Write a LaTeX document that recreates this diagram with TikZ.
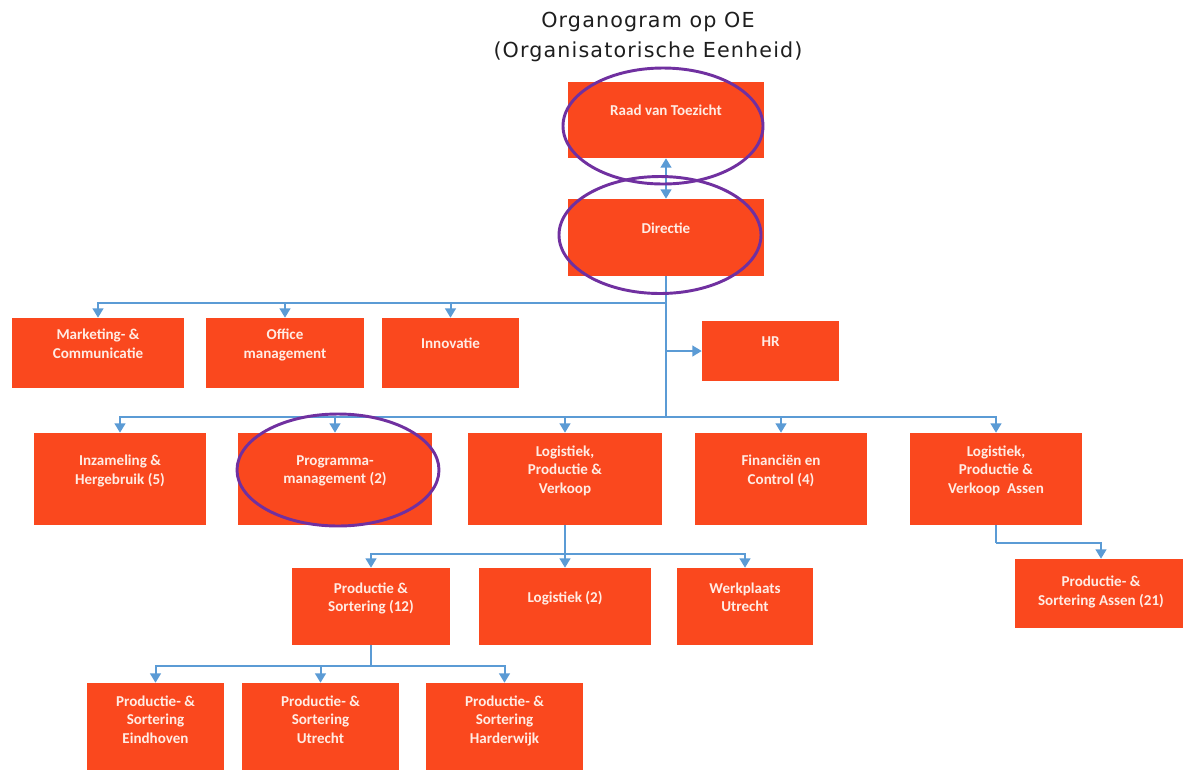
\documentclass[tikz,border=0pt]{standalone}
\usepackage{fontspec}
\setmainfont{Carlito}
\newfontfamily\titlefont[LetterSpace=5.5]{DejaVu Sans}
\usetikzlibrary{arrows.meta,shapes.geometric}
\definecolor{boxred}{RGB}{250,72,30}
\definecolor{boxtext}{RGB}{255,236,228}
\definecolor{conn}{RGB}{91,155,213}
\definecolor{hlpurple}{RGB}{112,48,160}
\definecolor{titlegray}{RGB}{30,30,30}
\tikzset{
  box/.style={fill=boxred, draw=none, text=boxtext, align=center,
    font=\bfseries\fontsize{11.3}{13.9}\selectfont, inner sep=0pt, text depth=14pt},
  line/.style={draw=conn, line width=1.5pt},
  arr/.style={line, -{Triangle[length=7pt,width=8pt]}},
  dbl/.style={line, {Triangle[length=7pt,width=8pt]}-{Triangle[length=7pt,width=8pt]}},
  hl/.style={ellipse, draw=hlpurple, line width=2.2pt, inner sep=0pt, fill=none}
}
\begin{document}
\begin{tikzpicture}[x=0.75pt,y=-0.75pt]
\useasboundingbox[fill=white] (0,0) rectangle (1183,769);
% title
\node[font=\titlefont\fontsize{15.5}{22.5}\selectfont, text=titlegray, align=center] (title) at (648,37) {Organogram op OE\\(Organisatorische Eenheid)};
% boxes
\node[box, minimum width=147pt, minimum height=57pt] (rvt) at (666,120) {Raad van Toezicht};
\node[box, minimum width=147pt, minimum height=57.75pt] (dir) at (666,237.5) {Directie};
\node[box, minimum width=129pt, minimum height=52.5pt] (mark) at (98,353) {Marketing- \&\\Communicatie};
\node[box, minimum width=118.5pt, minimum height=52.5pt] (office) at (285,353) {Office\\management};
\node[box, minimum width=102.75pt, minimum height=52.5pt] (innov) at (450.5,353) {Innovatie};
\node[box, minimum width=102.75pt, minimum height=45pt] (hr) at (770.5,351) {HR};
\node[box, minimum width=129pt, minimum height=69pt] (inz) at (120,479) {Inzameling \&\\Hergebruik (5)};
\node[box, minimum width=145.5pt, minimum height=69pt] (prog) at (335,479) {Programma-\\management (2)};
\node[box, minimum width=145.5pt, minimum height=69pt] (lpv) at (565,479) {Logistiek,\\Productie \&\\Verkoop};
\node[box, minimum width=129pt, minimum height=69pt] (fin) at (781,479) {Financiën en\\Control (4)};
\node[box, minimum width=129pt, minimum height=69pt] (lpva) at (996,479) {Logistiek,\\Productie \&\\Verkoop\ \ Assen};
\node[box, minimum width=118.5pt, minimum height=57.75pt] (ps12) at (371,606.5) {Productie \&\\Sortering (12)};
\node[box, minimum width=129pt, minimum height=57.75pt] (log2) at (565,606.5) {Logistiek (2)};
\node[box, minimum width=102pt, minimum height=57.75pt] (werk) at (745,606.5) {Werkplaats\\Utrecht};
\node[box, minimum width=102.75pt, minimum height=69pt] (pse) at (155.5,729) {Productie- \&\\Sortering\\Eindhoven};
\node[box, minimum width=117.75pt, minimum height=69pt] (psu) at (320.5,729) {Productie- \&\\Sortering\\Utrecht};
\node[box, minimum width=117.75pt, minimum height=69pt] (psh) at (504.5,729) {Productie- \&\\Sortering\\Harderwijk};
\node[box, minimum width=129pt, minimum height=51.75pt, text depth=4pt] (psa) at (1101,593.5) {Productie- \&\\Sortering Assen (21)};
% junctions
\coordinate (j1) at (666,303);
\coordinate (j2) at (666,417);
\coordinate (j3) at (565,554);
\coordinate (j4) at (371,666);
\coordinate (j5) at (996,543);
% connectors
\draw[dbl] (rvt.south) -- (dir.north);
\draw[line] (dir.south) -- (j2);
\draw[arr] (j1) -| (mark.north);
\draw[arr] (j1) -| (office.north);
\draw[arr] (j1) -| (innov.north);
\draw[arr] (dir.south |- hr.west) -- (hr.west);
\draw[arr] (j2) -| (inz.north);
\draw[arr] (j2) -| (prog.north);
\draw[arr] (j2) -| (lpv.north);
\draw[arr] (j2) -| (fin.north);
\draw[arr] (j2) -| (lpva.north);
\draw[line] (lpv.south) -- (j3);
\draw[arr] (j3) -| (ps12.north);
\draw[arr] (j3) -- (log2.north);
\draw[arr] (j3) -| (werk.north);
\draw[line] (ps12.south) -- (j4);
\draw[arr] (j4) -| (pse.north);
\draw[arr] (j4) -| (psu.north);
\draw[arr] (j4) -| (psh.north);
\draw[line] (lpva.south) -- (j5);
\draw[arr] (j5) -| (psa.north);
% highlights
\node[hl, minimum width=150pt, minimum height=87pt] (hl1) at (663,126) {};
\node[hl, minimum width=151.5pt, minimum height=87.75pt] (hl2) at (660,235) {};
\node[hl, minimum width=151.5pt, minimum height=84pt] (hl3) at (338,470) {};
\end{tikzpicture}
\end{document}
